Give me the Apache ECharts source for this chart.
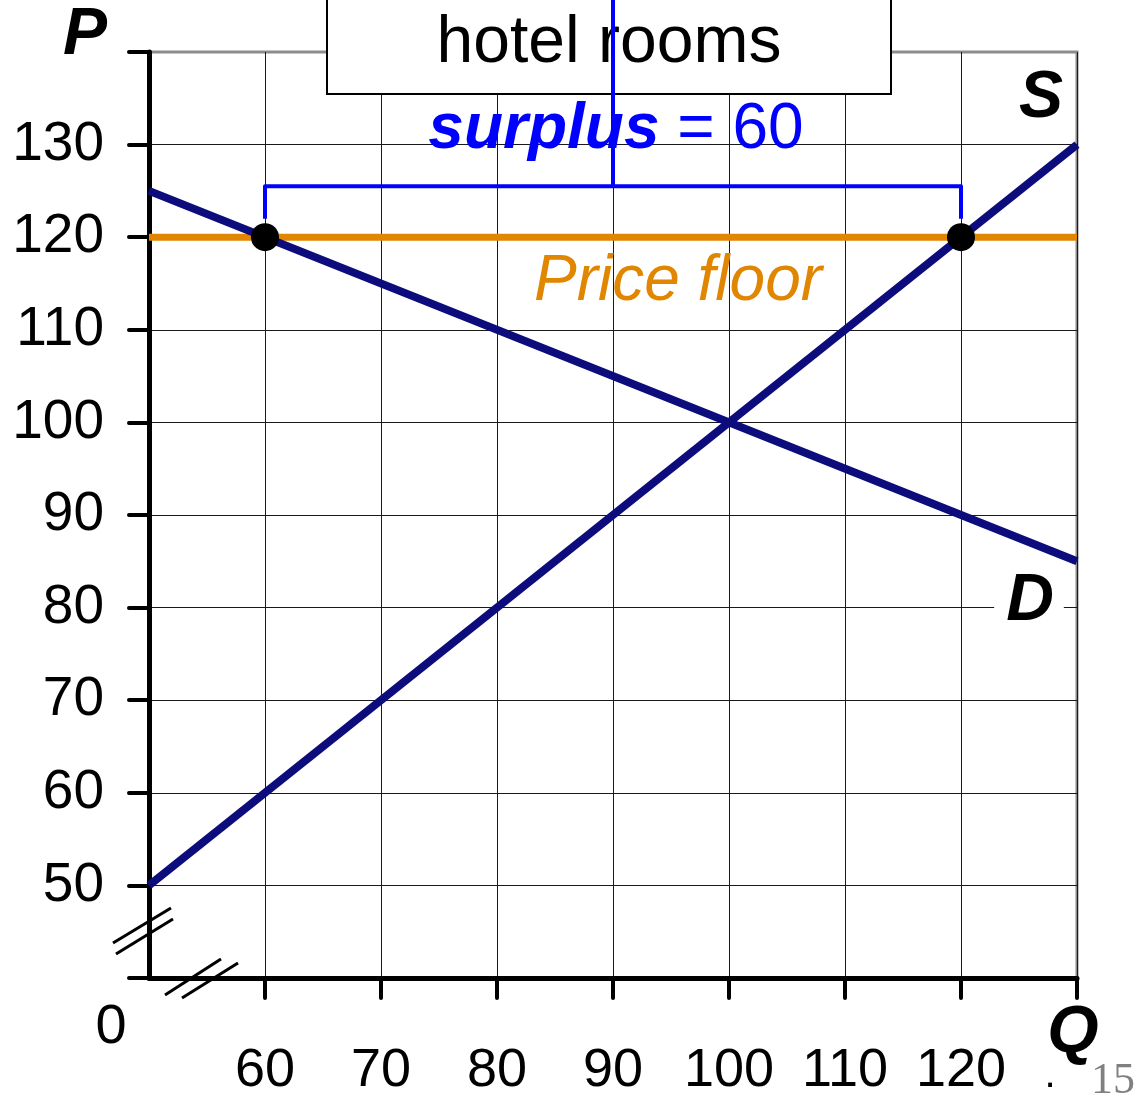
<!DOCTYPE html>
<html>
<head>
<meta charset="utf-8">
<title>Price floor: hotel rooms</title>
<script src="https://cdn.jsdelivr.net/npm/echarts@6/dist/echarts.min.js"></script>
<style>
  html, body { margin: 0; padding: 0; background: #fff; }
  #chart { width: 1145px; height: 1100px; }
</style>
</head>
<body>
<div id="chart"></div>
<script>
// Market for hotel rooms: supply, demand and a binding price floor
const quantityTicks = [50, 60, 70, 80, 90, 100, 110, 120, 130];
const priceTicks = [40, 50, 60, 70, 80, 90, 100, 110, 120, 130, 140];
const quantityTickMarks = [60, 70, 80, 90, 100, 110, 120, 130];
const shownQuantityLabels = [60, 70, 80, 90, 100, 110, 120];
const shownPriceLabels = [50, 60, 70, 80, 90, 100, 110, 120, 130];

const supplyQ = [50, 130];
const supplyP = [50, 130];
const demandQ = [50, 130];
const demandP = [125, 85];

const floorPrice = 120;
const floorQ = [50, 130];

// quantity demanded and quantity supplied at the floor price
const qDemanded = 60;
const qSupplied = 120;

// brace above the floor: leg bottom, bar level, spike top (price units)
const braceP = [122, 125.5, 146];

const NAVY = '#0c0c7c';
const ORANGE = '#e08600';
const BLUE = '#0000ff';
const FONT = '"Liberation Sans", Arial, sans-serif';

const surplus = qSupplied - qDemanded;
const qMid = (qDemanded + qSupplied) / 2;

const bracePath = [
  [qDemanded, braceP[0]], [qDemanded, braceP[1]],
  [qMid, braceP[1]], [qMid, braceP[2]], [qMid, braceP[1]],
  [qSupplied, braceP[1]], [qSupplied, braceP[0]]
];

function pairs(xs, ys) { return xs.map((x, i) => [x, ys[i]]); }

function gridColors(n) {
  const c = [];
  for (let i = 0; i < n; i++) c.push(i === n - 1 ? 'rgba(0,0,0,0)' : '#1a1a1a');
  return c;
}

const chart = echarts.init(document.getElementById('chart'), null, { renderer: 'canvas' });

const boldItalic = (size) => ({ fontFamily: FONT, fontWeight: 'bold', fontStyle: 'italic', fontSize: size, fill: '#000' });

chart.setOption({
  animation: false,
  backgroundColor: '#fff',
  grid: {
    left: 149, right: 68, top: 52, bottom: 122,
    show: true, borderColor: '#8c8c8c', borderWidth: 3, backgroundColor: 'transparent'
  },
  xAxis: {
    type: 'value',
    min: quantityTicks[0], max: quantityTicks[quantityTicks.length - 1], interval: 10,
    axisLine: { show: true, onZero: false, lineStyle: { color: '#000', width: 5 } },
    axisTick: { show: true, inside: false, length: 20, customValues: quantityTickMarks,
      lineStyle: { color: '#000', width: 4, cap: 'round' } },
    axisLabel: {
      show: true, margin: 66, color: '#000', fontFamily: FONT, fontSize: 54,
      showMinLabel: true, showMaxLabel: true,
      formatter: v => shownQuantityLabels.includes(v) ? String(v) : ''
    },
    splitLine: { show: true, lineStyle: { color: gridColors(quantityTicks.length), width: 1 } }
  },
  yAxis: {
    type: 'value',
    min: priceTicks[0], max: priceTicks[priceTicks.length - 1], interval: 10,
    axisLine: { show: true, onZero: false, lineStyle: { color: '#000', width: 5 } },
    axisTick: { show: true, inside: false, length: 20, lineStyle: { color: '#000', width: 4, cap: 'round' } },
    axisLabel: {
      show: true, margin: 45, color: '#000', fontFamily: FONT, fontSize: 55,
      padding: [10, 0, 0, 0],
      showMinLabel: true, showMaxLabel: true,
      formatter: v => shownPriceLabels.includes(v) ? String(v) : ''
    },
    splitLine: { show: true, lineStyle: { color: gridColors(priceTicks.length), width: 1 } }
  },
  series: [
    {
      name: 'Price floor', type: 'line', z: 3,
      data: floorQ.map(q => [q, floorPrice]),
      symbol: 'none', lineStyle: { color: ORANGE, width: 7 }
    },
    {
      name: 'S', type: 'line', z: 4,
      data: pairs(supplyQ, supplyP),
      symbol: 'none', lineStyle: { color: NAVY, width: 8 }
    },
    {
      name: 'D', type: 'line', z: 4,
      data: pairs(demandQ, demandP),
      symbol: 'none', lineStyle: { color: NAVY, width: 8 }
    },
    {
      name: 'surplus', type: 'line', z: 6, clip: false,
      data: bracePath,
      symbol: 'none', lineStyle: { color: BLUE, width: 4, join: 'round' }
    },
    {
      name: 'floor points', type: 'scatter', z: 7,
      data: [[qDemanded, floorPrice], [qSupplied, floorPrice]],
      symbol: 'circle', symbolSize: 28, itemStyle: { color: '#000', opacity: 1 }
    }
  ],
  graphic: [
    // title box
    { type: 'rect', z: 1, shape: { x: 327, y: -10, width: 564, height: 104 },
      style: { fill: '#fff', stroke: '#000', lineWidth: 2 } },
    { type: 'text', z: 2, x: 609, y: 44,
      style: { text: 'hotel rooms', fontFamily: FONT, fontSize: 66, fill: '#000', align: 'center', verticalAlign: 'middle' } },
    // surplus label
    { type: 'text', z: 8, x: 616, y: 130,
      style: {
        text: '{b|surplus}{n| = ' + surplus + '}',
        align: 'center', verticalAlign: 'middle',
        rich: {
          b: { fontFamily: FONT, fontWeight: 'bold', fontStyle: 'italic', fontSize: 64, fill: BLUE },
          n: { fontFamily: FONT, fontSize: 64, fill: BLUE }
        }
      } },
    { type: 'text', z: 8, x: 678, y: 282,
      style: { text: 'Price floor', fontFamily: FONT, fontStyle: 'italic', fontSize: 64, fill: ORANGE, align: 'center', verticalAlign: 'middle' } },
    // axis and curve names
    { type: 'text', z: 8, x: 85, y: 36, style: Object.assign({ text: 'P', align: 'center', verticalAlign: 'middle' }, boldItalic(66)) },
    { type: 'text', z: 8, x: 1041, y: 99, style: Object.assign({ text: 'S', align: 'center', verticalAlign: 'middle' }, boldItalic(66)) },
    { type: 'text', z: 8, x: 1029, y: 602,
      style: Object.assign({ text: 'D', align: 'center', verticalAlign: 'middle', backgroundColor: '#fff', padding: [0, 10, 0, 12] }, boldItalic(66)) },
    { type: 'text', z: 8, x: 1073, y: 1034, style: Object.assign({ text: 'Q', align: 'center', verticalAlign: 'middle' }, boldItalic(66)) },
    { type: 'text', z: 8, x: 111, y: 1028,
      style: { text: '0', fontFamily: FONT, fontSize: 56, fill: '#000', align: 'center', verticalAlign: 'middle' } },
    // axis break marks
    { type: 'line', z: 8, shape: { x1: 113, y1: 943, x2: 171, y2: 908 }, style: { stroke: '#000', lineWidth: 3 } },
    { type: 'line', z: 8, shape: { x1: 116, y1: 954, x2: 173, y2: 919 }, style: { stroke: '#000', lineWidth: 3 } },
    { type: 'line', z: 8, shape: { x1: 165, y1: 995, x2: 221, y2: 959 }, style: { stroke: '#000', lineWidth: 3 } },
    { type: 'line', z: 8, shape: { x1: 182, y1: 998, x2: 238, y2: 963 }, style: { stroke: '#000', lineWidth: 3 } },
    // slide number
    { type: 'text', z: 8, x: 1050, y: 1076,
      style: { text: '.', fontFamily: FONT, fontSize: 40, fill: '#000', align: 'center', verticalAlign: 'middle' } },
    { type: 'text', z: 9, x: 1113, y: 1081,
      style: { text: '15', fontFamily: '"Liberation Serif", serif', fontSize: 44, fill: '#808080', align: 'center', verticalAlign: 'middle' } }
  ]
});
</script>
</body>
</html>
